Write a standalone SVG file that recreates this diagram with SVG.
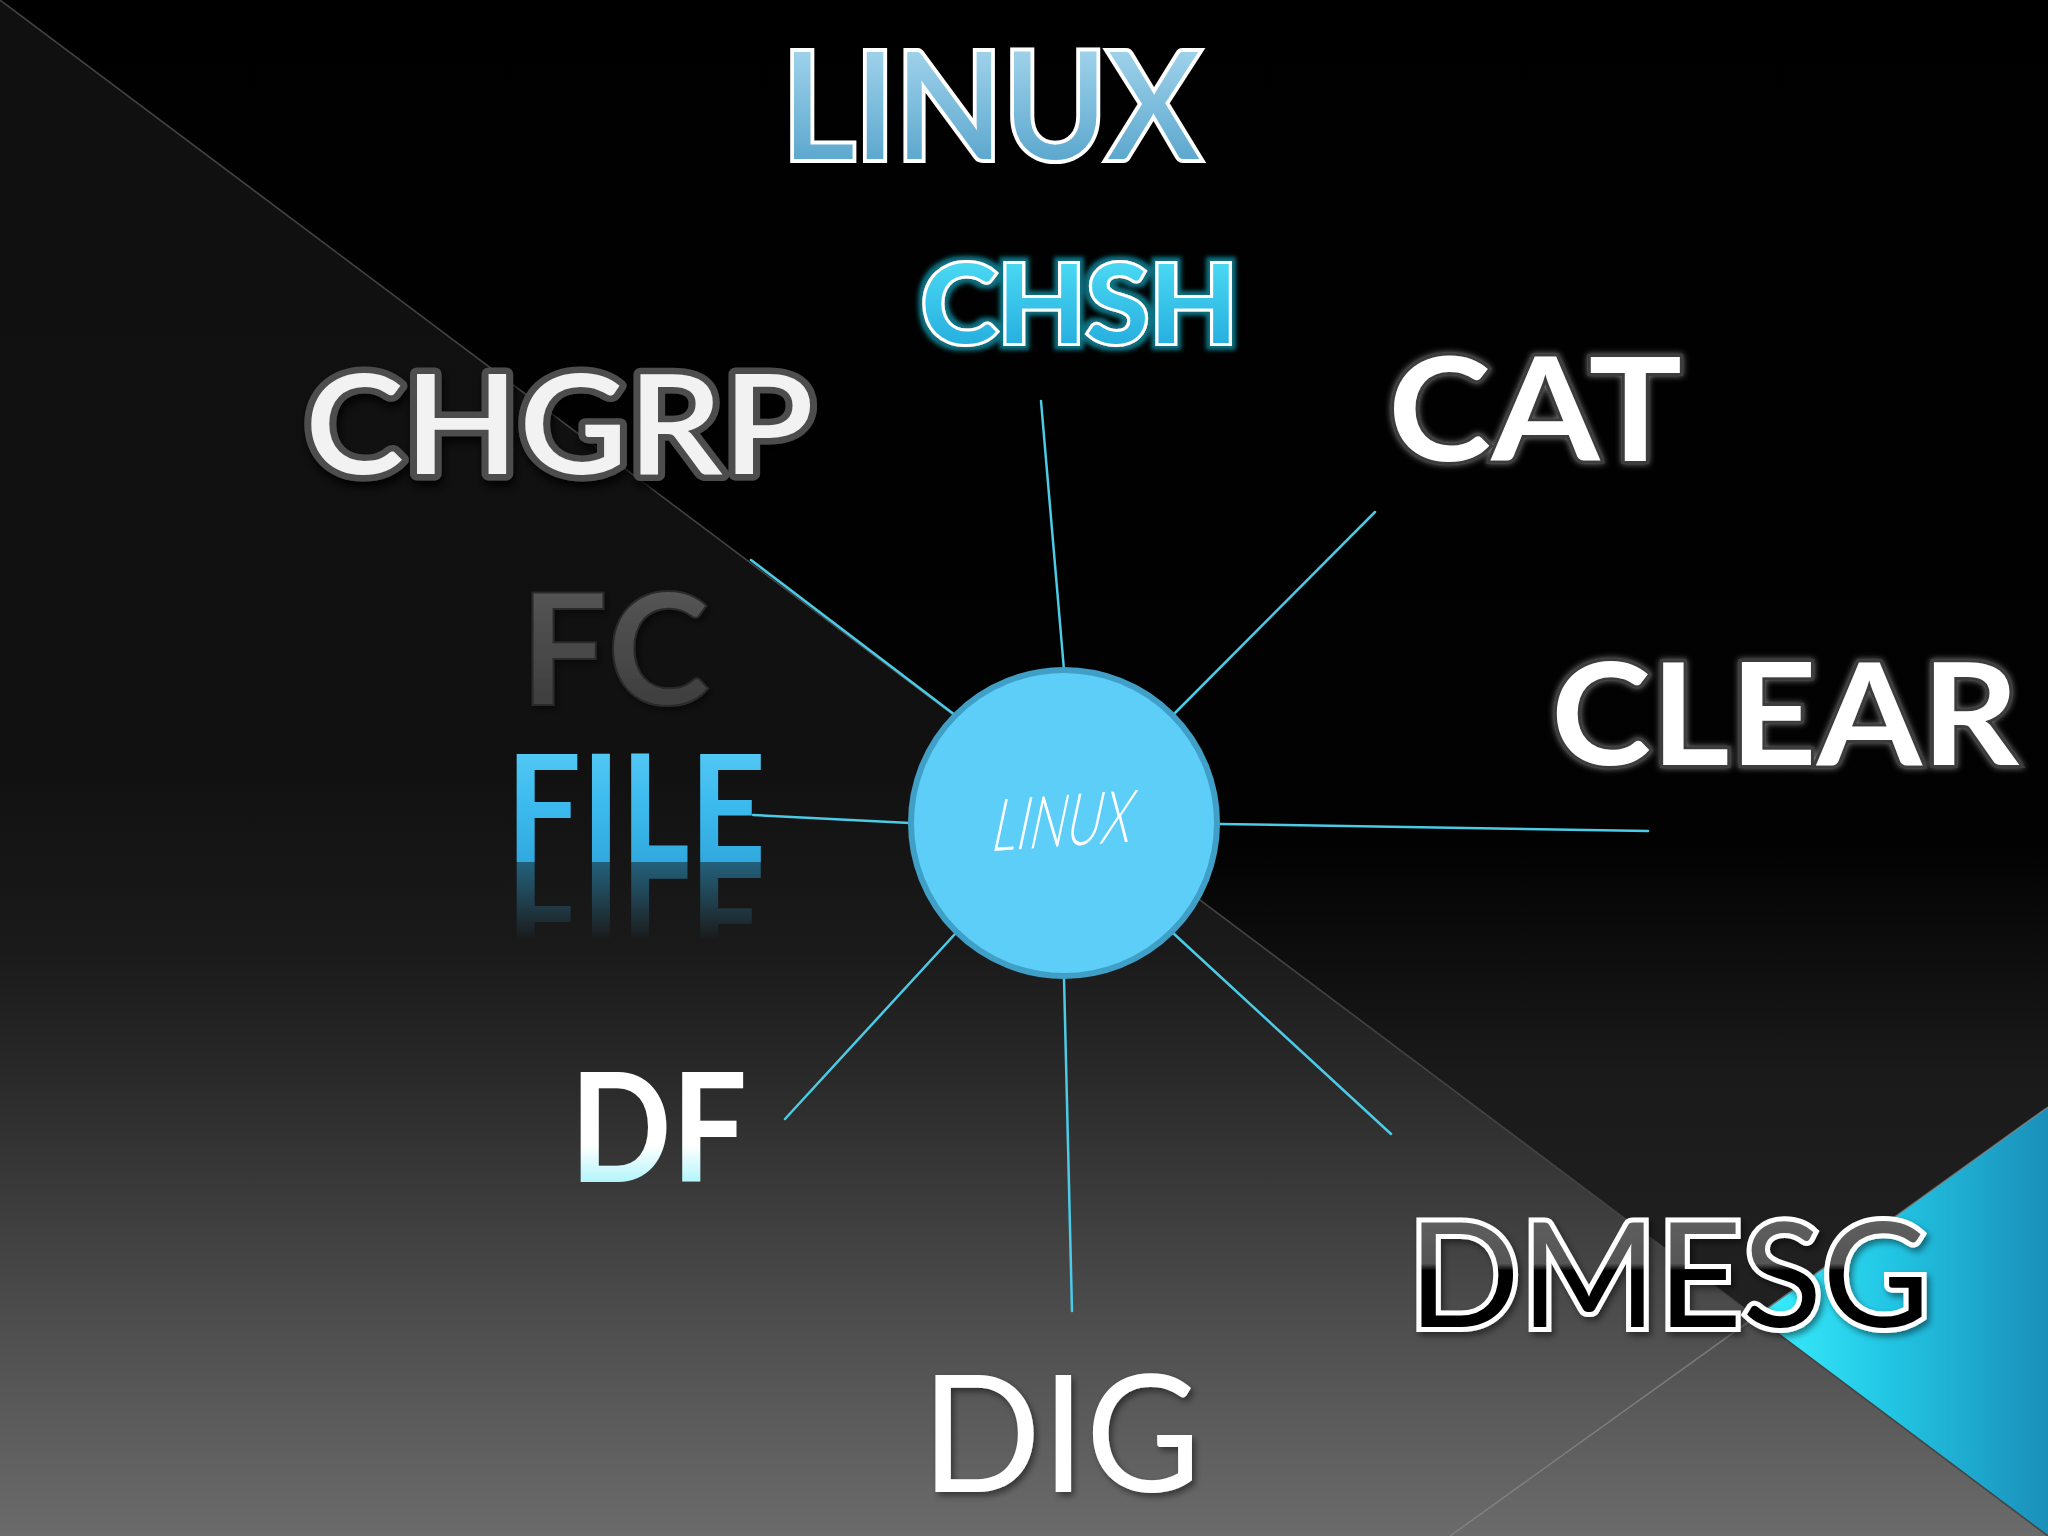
<svg xmlns="http://www.w3.org/2000/svg" xmlns:xlink="http://www.w3.org/1999/xlink" width="2048" height="1536" viewBox="0 0 2048 1536">
<defs>
<linearGradient id="bgDark" gradientUnits="userSpaceOnUse" x1="0" y1="0" x2="0" y2="1536">
<stop offset="0" stop-color="#000"/><stop offset="0.55" stop-color="#020202"/><stop offset="0.7" stop-color="#1a1a1a"/><stop offset="1" stop-color="#282828"/>
</linearGradient>
<linearGradient id="bgGray" gradientUnits="userSpaceOnUse" x1="0" y1="0" x2="0" y2="1536">
<stop offset="0" stop-color="#101010"/><stop offset="0.5" stop-color="#111"/><stop offset="0.62" stop-color="#1a1a1a"/><stop offset="0.7" stop-color="#292929"/><stop offset="0.85" stop-color="#4b4b4b"/><stop offset="1" stop-color="#6b6b6b"/>
</linearGradient>
<linearGradient id="gCyanTri" gradientUnits="userSpaceOnUse" x1="1756" y1="0" x2="2048" y2="0">
<stop offset="0" stop-color="#3af0ff"/><stop offset="0.45" stop-color="#22c6e4"/><stop offset="1" stop-color="#1a8fba"/>
</linearGradient>
<linearGradient id="gTitle" x1="0" y1="0" x2="0" y2="1">
<stop offset="0" stop-color="#b5e0f4"/><stop offset="1" stop-color="#4a9cc6"/>
</linearGradient>
<linearGradient id="gChsh" x1="0" y1="0" x2="0" y2="1">
<stop offset="0" stop-color="#55e6f9"/><stop offset="1" stop-color="#1ea4da"/>
</linearGradient>
<linearGradient id="gFile" x1="0" y1="0" x2="0" y2="1">
<stop offset="0" stop-color="#62d2f8"/><stop offset="0.5" stop-color="#3cbaee"/><stop offset="1" stop-color="#2a9fd6"/>
</linearGradient>
<linearGradient id="gFc" x1="0" y1="0" x2="0" y2="1">
<stop offset="0" stop-color="#5c5c5c"/><stop offset="1" stop-color="#383838"/>
</linearGradient>
<linearGradient id="gDf" x1="0" y1="0" x2="0" y2="1">
<stop offset="0" stop-color="#7ff0f8"/><stop offset="0.12" stop-color="#e8fdff"/><stop offset="0.2" stop-color="#ffffff"/><stop offset="0.62" stop-color="#ffffff"/><stop offset="0.85" stop-color="#a8f4fa"/><stop offset="1" stop-color="#30dcf0"/>
</linearGradient>
<linearGradient id="gDmesg" x1="0" y1="0" x2="0" y2="1">
<stop offset="0" stop-color="#656565"/><stop offset="0.46" stop-color="#565656"/><stop offset="0.5" stop-color="#050505"/><stop offset="1" stop-color="#000"/>
</linearGradient>
<linearGradient id="gRefl" gradientUnits="userSpaceOnUse" x1="0" y1="862" x2="0" y2="940">
<stop offset="0" stop-color="#fff" stop-opacity="0.6"/><stop offset="1" stop-color="#fff" stop-opacity="0"/>
</linearGradient>
<mask id="mRefl" maskUnits="userSpaceOnUse" x="480" y="860" width="320" height="90">
<rect x="480" y="860" width="320" height="90" fill="url(#gRefl)"/>
</mask>
<filter id="fTeal" x="-10%" y="-20%" width="120%" height="140%">
<feMorphology in="SourceAlpha" operator="dilate" radius="4" result="d"/>
<feGaussianBlur in="d" stdDeviation="2" result="b"/>
<feFlood flood-color="#0c7282"/>
<feComposite in2="b" operator="in" result="g"/>
<feMerge><feMergeNode in="g"/><feMergeNode in="SourceGraphic"/></feMerge>
</filter>
<filter id="fHalo" x="-10%" y="-20%" width="120%" height="140%">
<feDropShadow dx="0" dy="0" stdDeviation="3" flood-color="#8a8a8a" flood-opacity="0.9"/>
</filter>
<filter id="fShadow" x="-10%" y="-20%" width="120%" height="150%">
<feDropShadow dx="2" dy="6" stdDeviation="4" flood-color="#000" flood-opacity="0.85"/>
</filter>
<filter id="fSoft" x="-10%" y="-20%" width="120%" height="150%">
<feDropShadow dx="3" dy="4" stdDeviation="3" flood-color="#000" flood-opacity="0.45"/>
</filter>
</defs>
<style>
.cmd{font-family:Lato,"Liberation Sans",sans-serif;}
.conn{stroke:#4ccbe6;stroke-width:2.5;fill:none;stroke-linecap:round;}
</style>

<!-- background -->
<rect x="0" y="0" width="2048" height="1536" fill="url(#bgDark)"/>
<polygon points="0,0 2048,1536 0,1536" fill="url(#bgGray)"/>
<polygon points="2048,1107 1756,1317 2048,1536" fill="url(#gCyanTri)"/>
<line x1="0" y1="0" x2="2048" y2="1536" stroke="#444" stroke-width="1.5"/>
<line x1="2048" y1="1107" x2="1450" y2="1536" stroke="#8c8c8c" stroke-opacity="0.7" stroke-width="1.5"/>

<g id="title">
<text class="cmd" x="782" y="159" font-size="148" font-weight="600" textLength="418" lengthAdjust="spacingAndGlyphs" fill="url(#gTitle)" stroke="#fff" stroke-width="8" paint-order="stroke" stroke-linejoin="miter">LINUX</text>
</g>

<g id="connectors">
<line class="conn" x1="1064" y1="670" x2="1041" y2="401"/>
<line class="conn" x1="1173" y1="715" x2="1375" y2="512"/>
<line class="conn" x1="1219" y1="824" x2="1648" y2="831"/>
<line class="conn" x1="1173" y1="933" x2="1391" y2="1134"/>
<line class="conn" x1="1064" y1="978" x2="1072" y2="1311"/>
<line class="conn" x1="955" y1="934" x2="785" y2="1119"/>
<line class="conn" x1="910" y1="823" x2="753" y2="815"/>
<line class="conn" x1="955" y1="715" x2="751" y2="560"/>
</g>

<g id="node-chsh">
<text class="cmd" x="921" y="343" font-size="109" font-weight="700" textLength="317" lengthAdjust="spacingAndGlyphs" fill="url(#gChsh)" stroke="#fff" stroke-width="6" paint-order="stroke" filter="url(#fTeal)">CHSH</text>
</g>
<g id="node-cat">
<text class="cmd" x="1388" y="461" font-size="144" font-weight="700" textLength="294" lengthAdjust="spacingAndGlyphs" fill="#fff" stroke="#3c3c3c" stroke-width="6" paint-order="stroke" filter="url(#fHalo)">CAT</text>
</g>
<g id="node-chgrp">
<text class="cmd" x="305" y="474" font-size="138" font-weight="600" textLength="509" lengthAdjust="spacingAndGlyphs" fill="#f2f2f2" stroke="#4e4e4e" stroke-width="13" paint-order="stroke" stroke-linejoin="round" filter="url(#fShadow)">CHGRP</text>
</g>
<g id="node-fc">
<text class="cmd" x="520" y="705" font-size="155" font-weight="700" textLength="190" lengthAdjust="spacingAndGlyphs" fill="url(#gFc)" stroke="#2a2a2a" stroke-width="2" filter="url(#fSoft)">FC</text>
</g>
<g id="node-file">
<text id="t-file" class="cmd" x="506" y="862" font-size="149" font-weight="700" textLength="260" lengthAdjust="spacingAndGlyphs" fill="url(#gFile)">FILE</text>
<g mask="url(#mRefl)" opacity="0.85">
<use xlink:href="#t-file" href="#t-file" transform="translate(0,1724) scale(1,-1)"/>
</g>
</g>
<g id="node-clear">
<text class="cmd" x="1551" y="765" font-size="142" font-weight="700" textLength="468" lengthAdjust="spacingAndGlyphs" fill="#fff" stroke="#3c3c3c" stroke-width="6" paint-order="stroke" filter="url(#fHalo)">CLEAR</text>
</g>
<g id="node-df">
<text class="cmd" x="570" y="1182" font-size="151" font-weight="700" textLength="177" lengthAdjust="spacingAndGlyphs" fill="url(#gDf)">DF</text>
</g>
<g id="node-dig">
<text class="cmd" x="921" y="1492" font-size="163" font-weight="400" textLength="280" lengthAdjust="spacingAndGlyphs" fill="#fff" filter="url(#fSoft)">DIG</text>
</g>
<g id="node-dmesg">
<text class="cmd" x="1408" y="1327" font-size="146" font-weight="400" textLength="522" lengthAdjust="spacingAndGlyphs" fill="url(#gDmesg)" stroke="#fff" stroke-width="10" paint-order="stroke" filter="url(#fSoft)">DMESG</text>
</g>

<g id="node-center">
<circle cx="1064" cy="823" r="153" fill="#5ccef8" stroke="#3f9fc6" stroke-width="6"/>
<text class="cmd" x="994" y="846" font-size="72" font-weight="300" textLength="140" lengthAdjust="spacingAndGlyphs" fill="#fff" transform="translate(1064 823) rotate(-4) skewX(-16) translate(-1064 -823)">LINUX</text>
</g>
</svg>
